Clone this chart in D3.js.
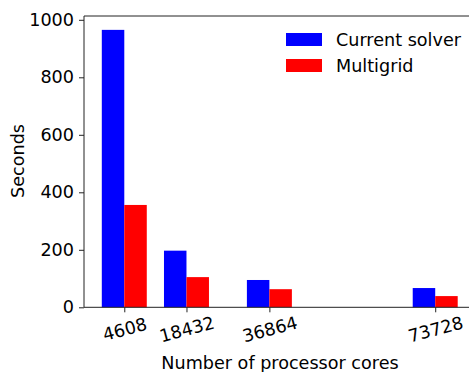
<!DOCTYPE html>
<meta charset="utf-8" />
<style>
  body { margin: 0; background: #fff; }
  text { font-family: 'DejaVu Sans', sans-serif; fill: #000; }
  .axis path, .axis line { stroke: #222; }
</style>
<body>
  <script src="https://d3js.org/d3.v7.min.js"></script>
  <script>
    // data
    var cores = [4608, 18432, 36864, 73728];
    var currentSolver = [965, 197, 95, 67];
    var multigrid = [356, 105, 63, 39];
    var seriesNames = ['Current solver', 'Multigrid'];
    var seriesColors = ['#0000ff', '#ff0000'];
    var yTicks = [0, 200, 400, 600, 800, 1000];

    var barWidth = 5000; // in core units, like matplotlib width=5000
    var fontSize = '17.6px';

    var svg = d3.select('body').append('svg')
      .attr('width', 469)
      .attr('height', 372);

    // x is a linear scale, bars sit at the core count
    var x = d3.scaleLinear()
      .domain([-4348, 82684])
      .range([84, 475.5]);
    var y = d3.scaleLinear()
      .domain([0, 1013.25])
      .range([307.3, 16]);

    // bars
    var series = [currentSolver, multigrid];
    series.forEach(function(vals, s) {
      svg.append('g').selectAll('rect')
        .data(vals)
        .enter().append('rect')
        .attr('x', function(d, i) {
          return s === 0 ? x(cores[i] - barWidth) : x(cores[i]);
        })
        .attr('width', x(barWidth) - x(0))
        .attr('y', function(d) { return y(d); })
        .attr('height', function(d) { return y(0) - y(d); })
        .attr('fill', seriesColors[s]);
    });

    // spines
    svg.append('line')
      .attr('x1', 84).attr('x2', 84)
      .attr('y1', 16).attr('y2', 307.3)
      .attr('stroke', '#222');
    svg.append('line')
      .attr('x1', 84).attr('x2', 469)
      .attr('y1', 16).attr('y2', 16)
      .attr('stroke', '#222');

    // y axis
    var yAxis = svg.append('g')
      .attr('class', 'axis')
      .attr('transform', 'translate(84,0)')
      .call(d3.axisLeft(y).tickValues(yTicks).tickFormat(d3.format('d'))
        .tickSize(5).tickPadding(5).tickSizeOuter(0));
    yAxis.select('.domain').remove();
    yAxis.selectAll('text')
      .style('font-size', fontSize)
      .style('font-family', 'DejaVu Sans');

    // x axis
    var xAxis = svg.append('g')
      .attr('class', 'axis')
      .attr('transform', 'translate(0,307.3)')
      .call(d3.axisBottom(x).tickValues(cores).tickFormat(d3.format('d')).tickSize(5).tickSizeOuter(0));
    xAxis.select('.domain').attr('d', 'M84,0H469');
    xAxis.selectAll('text')
      .style('font-size', fontSize)
      .style('font-family', 'DejaVu Sans')
      .attr('y', 0)
      .attr('dy', '0.35em')
      .attr('transform', 'translate(0,22) rotate(-15)');

    // axis labels
    svg.append('text')
      .attr('x', 280)
      .attr('y', 369)
      .attr('text-anchor', 'middle')
      .style('font-size', fontSize)
      .text('Number of processor cores');
    svg.append('text')
      .attr('transform', 'translate(24,161) rotate(-90)')
      .attr('text-anchor', 'middle')
      .style('font-size', fontSize)
      .text('Seconds');

    // legend
    var legend = svg.append('g');
    seriesNames.forEach(function(name, i) {
      legend.append('rect')
        .attr('x', 286)
        .attr('y', 33 + i * 26)
        .attr('width', 36)
        .attr('height', 13)
        .attr('fill', seriesColors[i]);
      legend.append('text')
        .attr('x', 336)
        .attr('y', 46 + i * 26)
        .style('font-size', fontSize)
        .text(name);
    });
  </script>
</body>
